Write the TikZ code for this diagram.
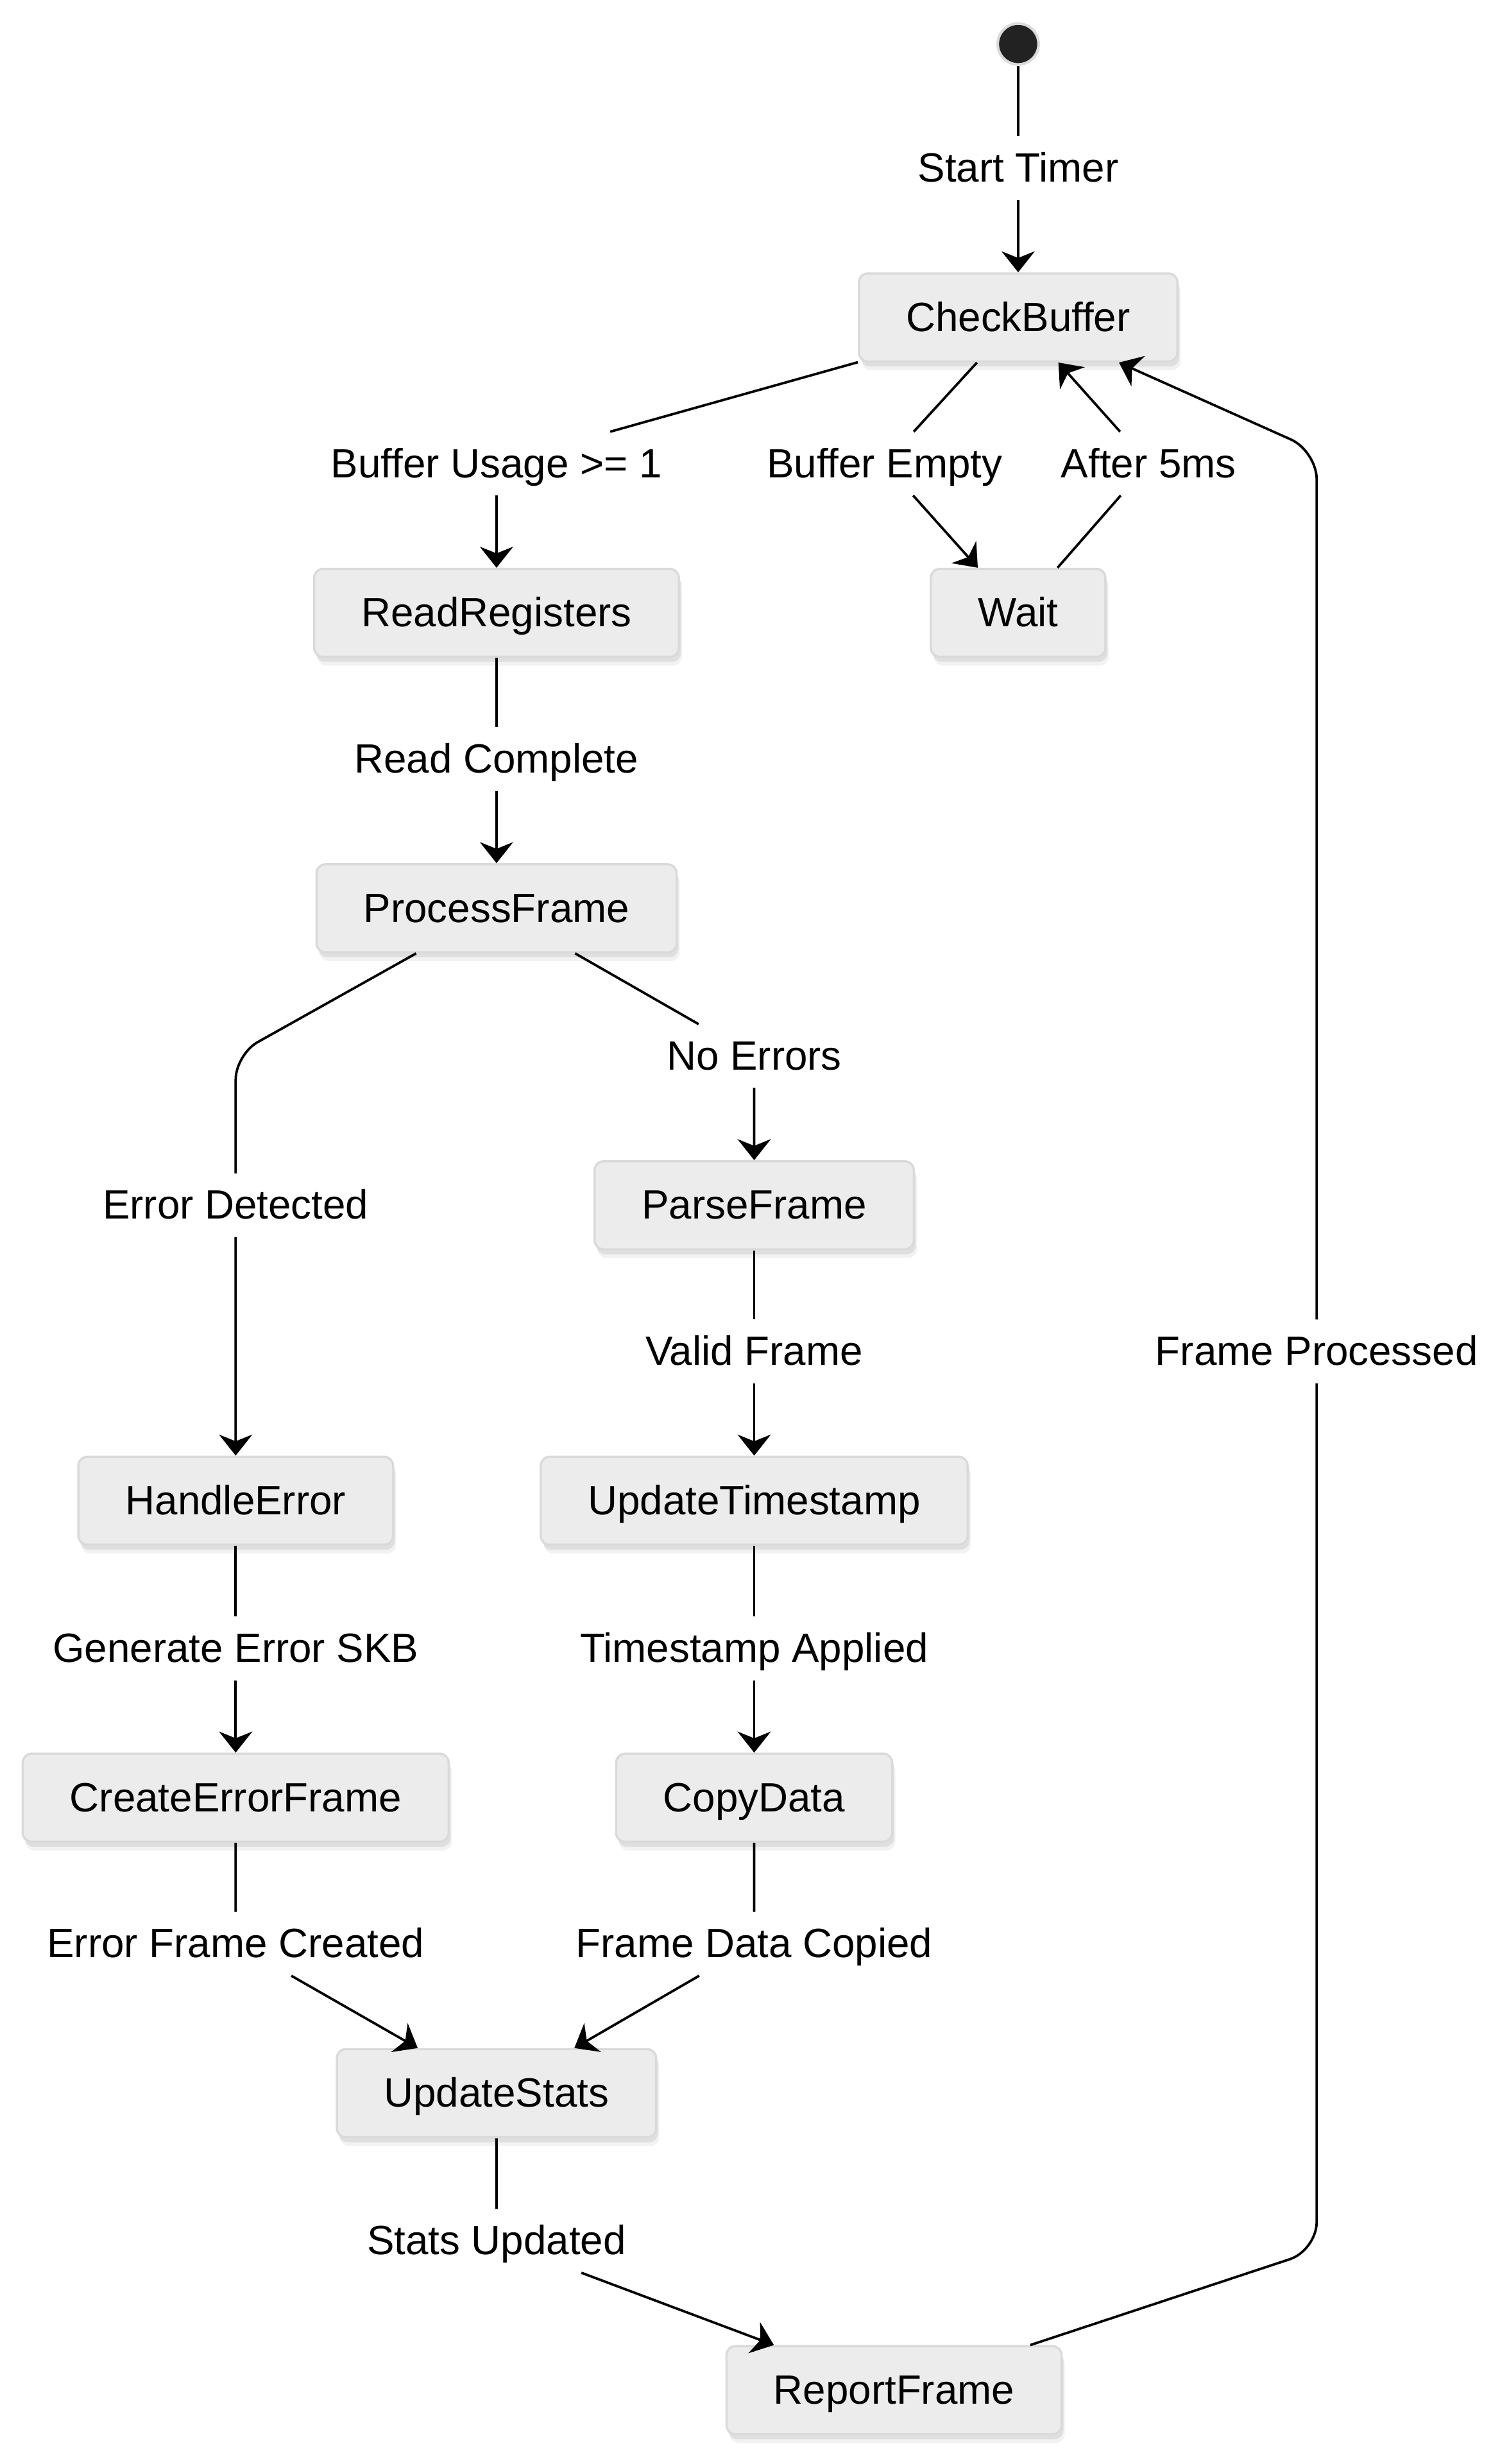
\documentclass[tikz,border=0pt]{standalone}
\usepackage{fontspec}
\setmainfont{Liberation Sans}
\usetikzlibrary{arrows.meta,shadows}
\tikzset{>={Stealth[length=9.5pt,width=15pt,inset=3pt]}}
\definecolor{boxfill}{HTML}{ECECEC}
\definecolor{boxline}{HTML}{DADADA}
\definecolor{dotfill}{HTML}{222222}
\newcommand*{\fs}{\fontsize{18.5pt}{22pt}\selectfont}
\tikzset{
  state/.style={draw=boxline,line width=1pt,fill=boxfill,rounded corners=4pt,
    minimum height=1.4cm,inner xsep=0.75cm,inner ysep=0pt,
    text height=0.52cm,text depth=0.08cm,font=\fs,
    drop shadow={shadow xshift=0.05cm,shadow yshift=-0.14cm,opacity=0.05,fill=black},
    drop shadow={shadow xshift=0.03cm,shadow yshift=-0.08cm,opacity=0.08,fill=black}},
  lbl/.style={inner xsep=2pt,inner ysep=0pt,minimum height=1cm,
    text height=0.52cm,text depth=0.08cm,font=\fs},
  startdot/.style={circle,fill=dotfill,draw=boxline,line width=1.2pt,minimum size=0.65cm,inner sep=0pt},
  tr/.style={->,line width=1.1pt}
}

\begin{document}
\begin{tikzpicture}[x=0.025cm,y=-0.025cm]
\useasboundingbox (0,0) rectangle (960,1568);
% States
\node[startdot] (init) at (648,28) {};
\node[state] (cb) at (648,202) {CheckBuffer};
\node[state] (wt) at (648,390) {Wait};
\node[state] (rr) at (316,390) {ReadRegisters};
\node[state] (pf) at (316,578) {ProcessFrame};
\node[state] (pa) at (480,767) {ParseFrame};
\node[state] (he) at (150,955) {HandleError};
\node[state] (ut) at (480,955) {UpdateTimestamp};
\node[state] (cef) at (150,1144) {CreateErrorFrame};
\node[state] (cd) at (480,1144) {CopyData};
\node[state] (us) at (316,1332) {UpdateStats};
\node[state] (rf) at (569,1521) {ReportFrame};
% Transition labels
\node[lbl] (tstart) at (648,107) {Start Timer};
\node[lbl] (tusage) at (316,295) {Buffer Usage >= 1};
\node[lbl] (tempty) at (563,295) {Buffer Empty};
\node[lbl] (tafter) at (731,295) {After 5ms};
\node[lbl] (tread) at (316,483) {Read Complete};
\node[lbl] (terr) at (150,767) {Error Detected};
\node[lbl] (tnoerr) at (480,672) {No Errors};
\node[lbl] (tvalid) at (480,860) {Valid Frame};
\node[lbl] (tgen) at (150,1049) {Generate Error SKB};
\node[lbl] (tstamp) at (480,1049) {Timestamp Applied};
\node[lbl] (tefc) at (150,1237) {Error Frame Created};
\node[lbl] (tcopied) at (480,1237) {Frame Data Copied};
\node[lbl] (tstats) at (316,1426) {Stats Updated};
\node[lbl] (tproc) at (838,860) {Frame Processed};
% Bends
\coordinate (kerr) at (150,671);
\coordinate (kback) at (838,1432);
\coordinate (ktop) at (838,287);
% Transitions
\draw[tr] (init) -- (tstart) -- (cb);
\draw[tr] (cb) -- (tusage) -- (rr);
\draw[tr] (cb) -- (tempty) -- (wt);
\draw[tr] (wt) -- (tafter) -- (cb);
\draw[tr] (rr) -- (tread) -- (pf);
\draw[tr,rounded corners=0.4cm] (pf) -- (kerr) -- (terr) -- (he);
\draw[tr] (pf) -- (tnoerr) -- (pa);
\draw[tr] (pa) -- (tvalid) -- (ut);
\draw[tr] (he) -- (tgen) -- (cef);
\draw[tr] (ut) -- (tstamp) -- (cd);
\draw[tr] (cef) -- (tefc) -- (us);
\draw[tr] (cd) -- (tcopied) -- (us);
\draw[tr] (us) -- (tstats) -- (rf);
\draw[tr,rounded corners=0.45cm] (rf) -- (kback) -- (tproc) -- (ktop) -- (cb);
\end{tikzpicture}
\end{document}
